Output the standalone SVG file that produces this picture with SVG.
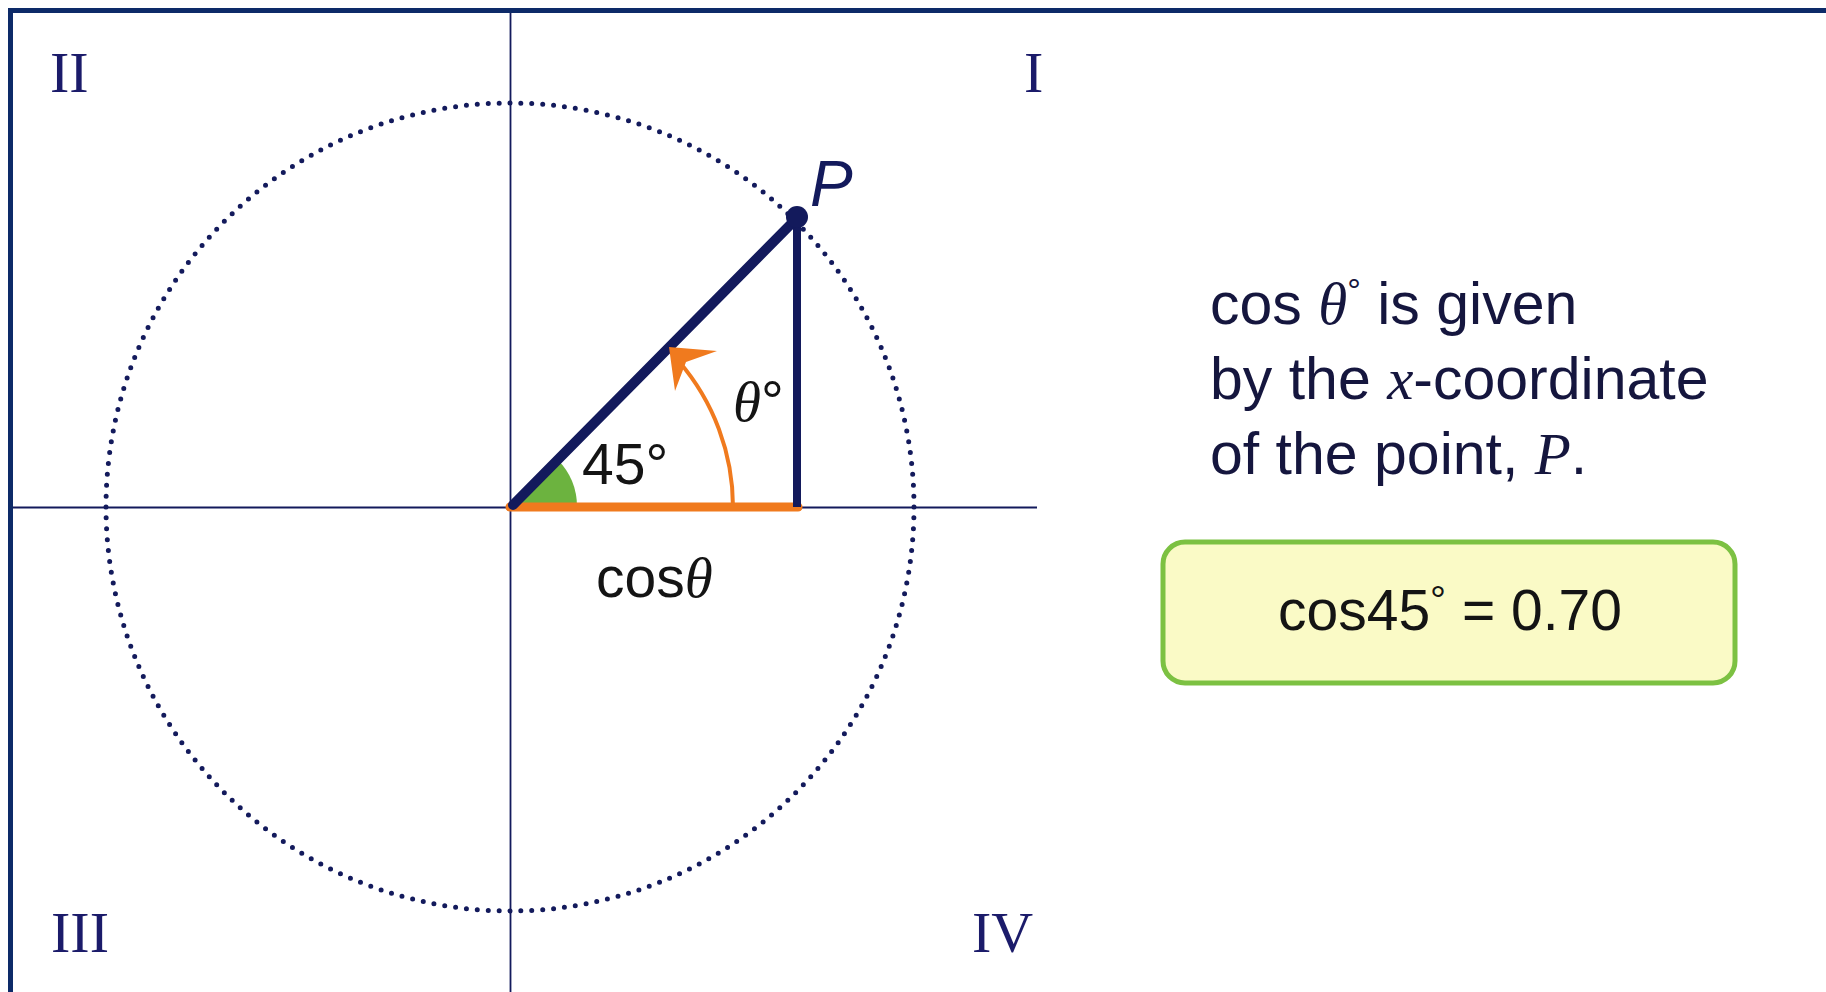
<svg xmlns="http://www.w3.org/2000/svg" width="1826" height="992" viewBox="0 0 1826 992">
<defs>
<style>
.navy{stroke:#131a5c;fill:none}
.quad{font-family:"Liberation Serif",serif;font-size:58px;fill:#1b1b6a}
.lbl{font-family:"Liberation Sans",Arial,sans-serif;font-size:57px;fill:#141414}
.note{font-family:"Liberation Sans",Arial,sans-serif;font-size:59px;fill:#15163e}
.it{font-family:"Liberation Serif",serif;font-style:italic}
</style>
</defs>
<rect x="0" y="0" width="1826" height="992" fill="#ffffff"/>
<g id="frame">
<line x1="8" y1="10.5" x2="1826" y2="10.5" stroke="#0d2a68" stroke-width="5"/>
<line x1="10.5" y1="8" x2="10.5" y2="992" stroke="#0d2a68" stroke-width="5"/>
</g>
<g id="axes">
<line class="navy" x1="13" y1="507.5" x2="1037" y2="507.5" stroke-width="1.8"/>
<line class="navy" x1="510.5" y1="13" x2="510.5" y2="992" stroke-width="1.8"/>
</g>
<g id="unit-circle">
<circle cx="510" cy="507" r="404" fill="none" stroke="#131a5c" stroke-width="5" stroke-linecap="round" pathLength="232" stroke-dasharray="0 1"/>
</g>
<g id="quadrant-labels">
<text class="quad" x="50" y="92">II</text>
<text class="quad" x="1024" y="92">I</text>
<text class="quad" x="51" y="952">III</text>
<text class="quad" x="972" y="952">IV</text>
</g>
<g id="angle-wedge">
<path d="M510,507 L577,507 A67,67 0 0 0 557.4,459.6 Z" fill="#6cb33f"/>
</g>
<g id="connectors">
<line x1="510" y1="507" x2="798" y2="507" stroke="#f07a1e" stroke-width="9" stroke-linecap="round"/>
<line class="navy" x1="797" y1="217" x2="797" y2="507" stroke-width="8"/>
<line class="navy" x1="513" y1="505" x2="797" y2="218" stroke-width="10" stroke-linecap="round"/>
<path d="M733,507 A223,223 0 0 0 678.5,361" fill="none" stroke="#f07a1e" stroke-width="4"/>
<path d="M669,347 L717,351 L686,362 L675,391 Z" fill="#f07a1e"/>
</g>
<g id="point-P">
<circle cx="797" cy="217" r="11" fill="#131a5c"/>
<text x="810" y="206" font-family="Liberation Sans,Arial,sans-serif" font-style="italic" font-size="64" fill="#131a5c">P</text>
</g>
<g id="angle-labels">
<text class="lbl" x="582" y="484">45<tspan>°</tspan></text>
<text class="lbl" x="733" y="421"><tspan class="it">θ</tspan>°</text>
<text class="lbl" x="596" y="597">cos<tspan class="it">θ</tspan></text>
</g>
<g id="note">
<text class="note" x="1210" y="324">cos <tspan class="it">θ</tspan><tspan font-size="34" dy="-22">°</tspan><tspan dy="22"> is given</tspan></text>
<text class="note" x="1210" y="399">by the <tspan class="it">x</tspan>-coordinate</text>
<text class="note" x="1210" y="474">of the point, <tspan class="it">P</tspan>.</text>
</g>
<g id="result-box">
<rect x="1163" y="542" width="572" height="141" rx="22" ry="22" fill="#fafac6" stroke="#7cc142" stroke-width="5"/>
<text class="lbl" x="1450" y="630" text-anchor="middle" fill="#15163e" font-size="59">cos45<tspan font-size="40" dy="-16">°</tspan><tspan dy="16"> = 0.70</tspan></text>
</g>
</svg>
